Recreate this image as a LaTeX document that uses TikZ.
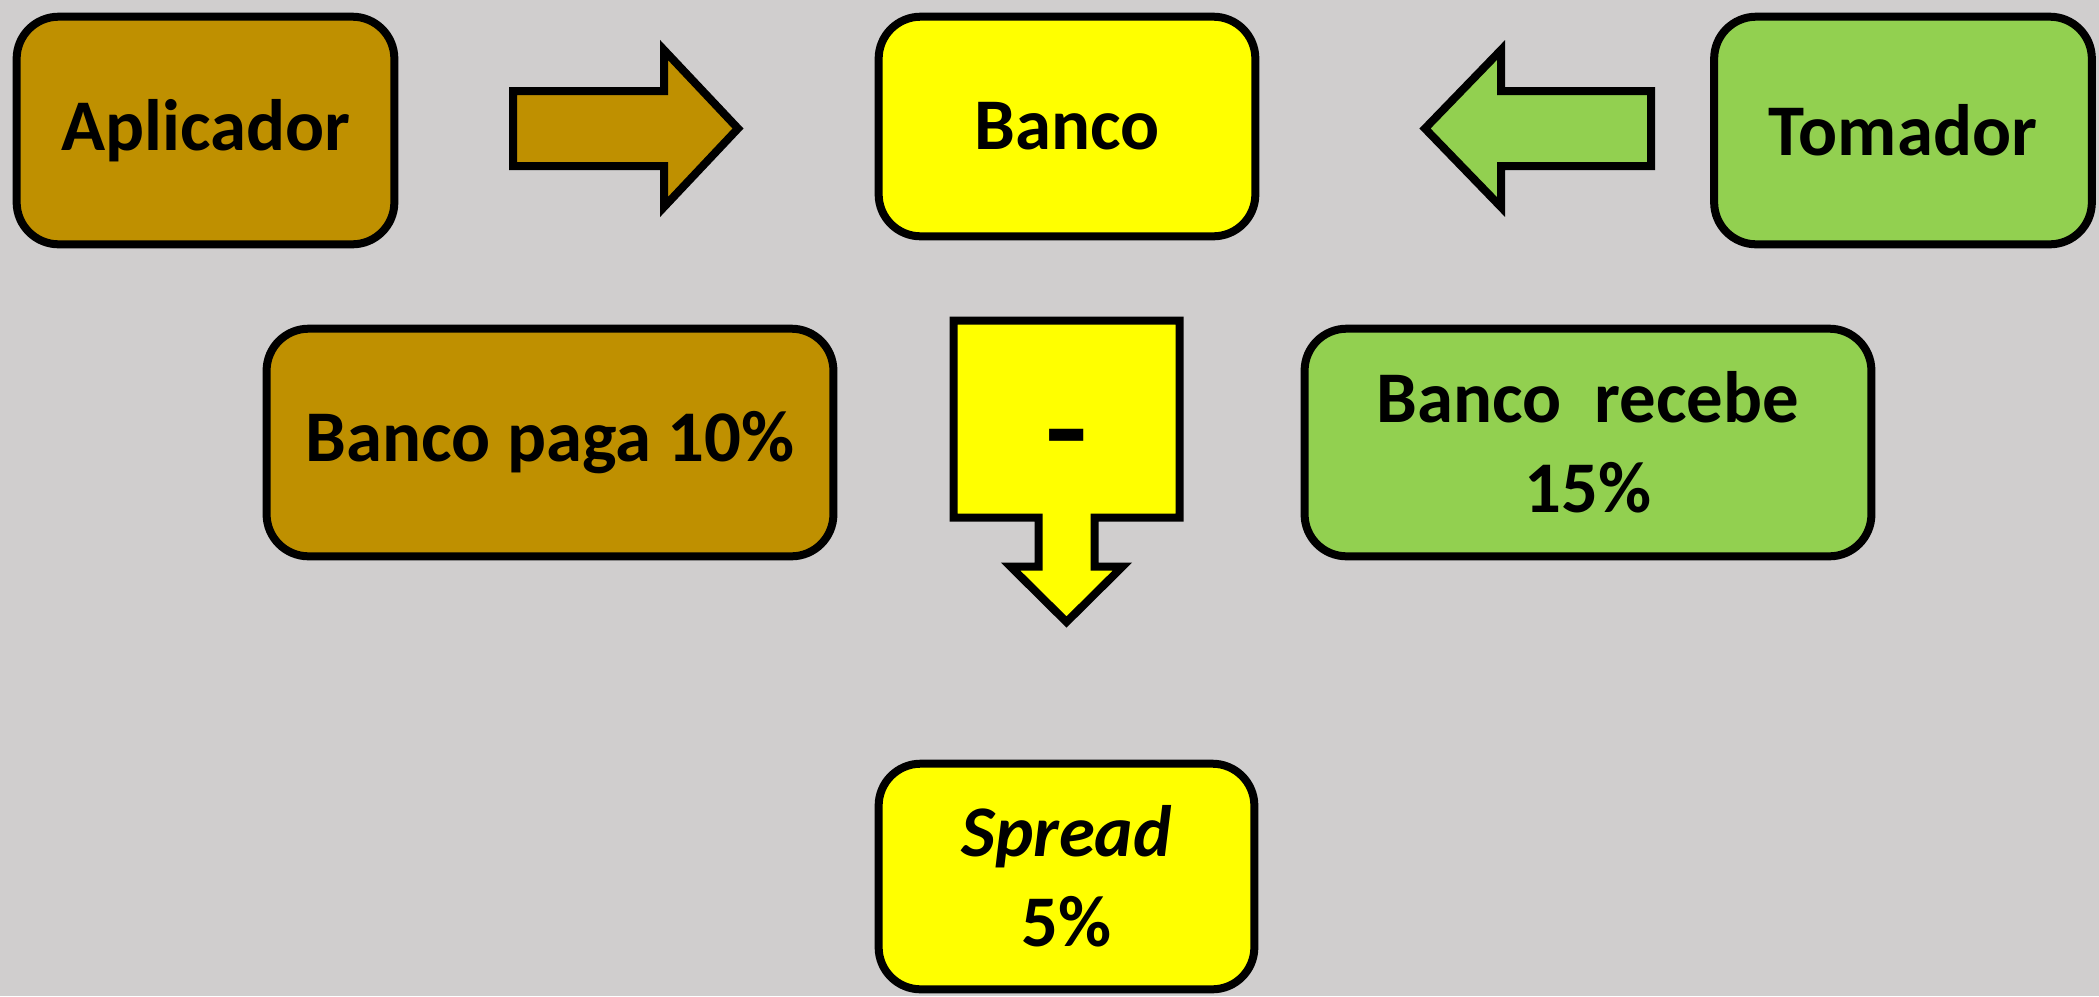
\documentclass[tikz,border=0pt]{standalone}
\usepackage{fontspec}
\setmainfont{Carlito}
\usetikzlibrary{positioning}
\definecolor{fundo}{HTML}{D0CECE}
\definecolor{ouro}{HTML}{BF9000}
\definecolor{verde}{HTML}{92D050}
\definecolor{amarelo}{HTML}{FFFF00}
\tikzset{
  caixa/.style={draw,rounded corners=0.42cm,line width=0.08cm,align=center,inner sep=0pt,
    font=\bfseries\fontsize{20.7}{25.5}\selectfont},
  seta/.style={draw,line width=0.08cm},
}

\begin{document}
\begin{tikzpicture}[x=0.01cm,y=-0.01cm]
  \fill[fundo] (0,0) rectangle (2099,996);
  \useasboundingbox (0,0) rectangle (2099,996);
  % linha de cima
  \node[caixa,fill=ouro,minimum width=3.775cm,minimum height=2.275cm] (apl) at (205.5,130.5) {Aplicador};
  \node[caixa,fill=amarelo,minimum width=3.765cm,minimum height=2.195cm] (banco) at (1067,126.5) {Banco};
  \node[caixa,fill=verde,minimum width=3.775cm,minimum height=2.275cm] (tom) at (1903,130.5) {Tomador};
  % taxas
  \node[caixa,fill=ouro,minimum width=5.665cm,minimum height=2.275cm] (paga) at (550,442.5) {Banco paga 10\%};
  \node[caixa,fill=verde,minimum width=5.665cm,minimum height=2.275cm] (recebe) at (1588,442.5) {Banco\ \ recebe\\15\%};
  \node[caixa,fill=amarelo,minimum width=3.755cm,minimum height=2.255cm] (spread) at (1066.5,876.5) {\textit{Spread}\\5\%};
  % setas
  \draw[seta,fill=ouro] (513,91) -- (664,91) -- (664,50) -- (738,128.5) -- (664,207) -- (664,166) -- (513,166) -- cycle;
  \draw[seta,fill=verde] (1651,91) -- (1501,91) -- (1501,50) -- (1425,128.5) -- (1501,207) -- (1501,166) -- (1651,166) -- cycle;
  \draw[seta,fill=amarelo] (953.5,320.5) -- (1179.5,320.5) -- (1179.5,517.5) -- (1094.5,517.5) -- (1094.5,566.5)
    -- (1122.5,566.5) -- (1066.5,622) -- (1010.5,566.5) -- (1038.5,566.5) -- (1038.5,517.5) -- (953.5,517.5) -- cycle;
  \node[font=\bfseries\fontsize{20.7}{25.5}\selectfont,inner sep=0pt] (menos) at (1066.5,449) {\scalebox{1.9}[1.6]{-}};
\end{tikzpicture}
\end{document}
